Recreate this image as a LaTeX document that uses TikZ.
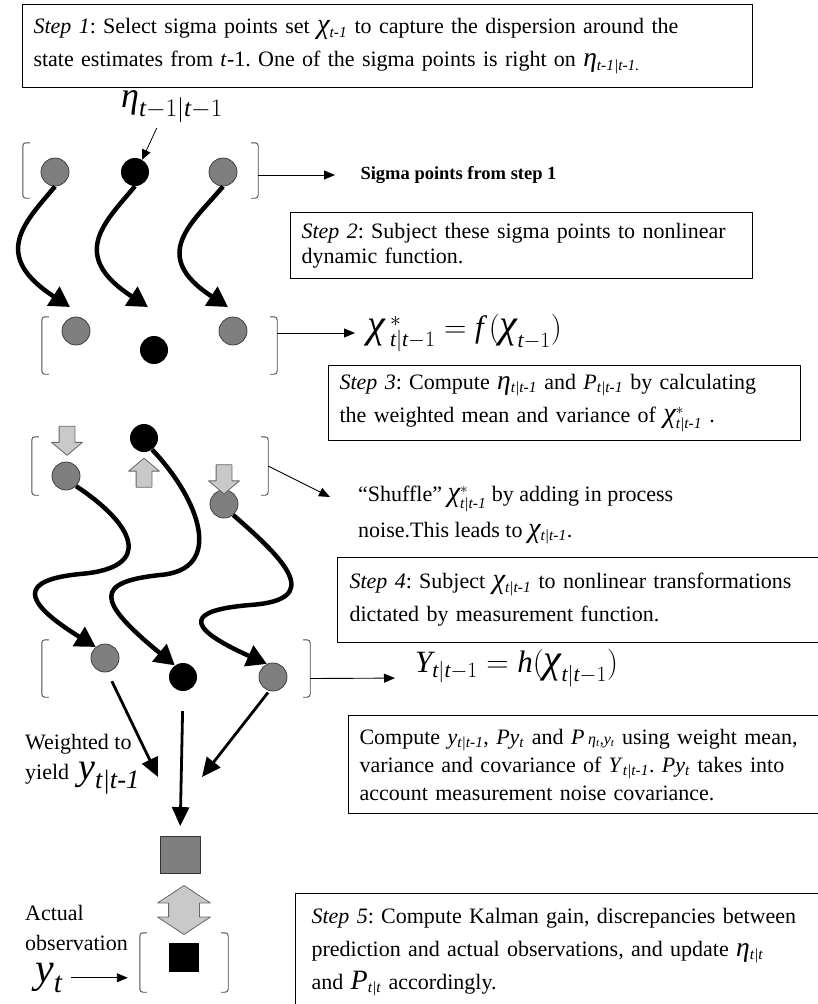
\RequirePackage{fix-cm}
\documentclass[tikz,border=0pt]{standalone}
\usepackage{amsmath}
\usepackage{graphicx}
\usepackage{fontspec}
\setmainfont{Liberation Serif}
\usepackage{tikz}
\usetikzlibrary{positioning, arrows.meta, shapes.arrows}
\definecolor{dotgray}{HTML}{7F7F7F}
\definecolor{arrgray}{HTML}{C9C9C9}
\frenchspacing
\hyphenpenalty=10000
\exhyphenpenalty=10000

\newcommand{\sbt}[1]{\textsubscript{\textit{#1}}}
\newcommand{\gchi}{\scalebox{1.3}{\itshape χ}}
\newcommand{\geta}{\scalebox{1.25}{\itshape η}}
\newcommand{\chistar}{$\text{\gchi}^{*}_{\textit{t|t-1}}$}
\newcommand{\rowbrackets}[1]{%
  \draw[brk] ([xshift=7pt]#1.north west) -- (#1.north west) -- (#1.south west) -- ([xshift=7pt]#1.south west);
  \draw[brk] ([xshift=-7pt]#1.north east) -- (#1.north east) -- (#1.south east) -- ([xshift=-7pt]#1.south east);}

\begin{document}
\begin{tikzpicture}[x=1pt, y=-1pt, >=Triangle, line join=round]
    % stili
    \tikzstyle{stepbox} = [draw, line width=1.1pt, anchor=north west, align=left, inner ysep=2pt, font=\fontsize{22}{33}\selectfont]
    \tikzstyle{gdot} = [circle, draw=black!75, fill=dotgray, line width=0.8pt, minimum size=28pt, inner sep=0pt]
    \tikzstyle{bdot} = [circle, fill=black, minimum size=28pt, inner sep=0pt]
    \tikzstyle{rowbox} = [rectangle, inner sep=0pt]
    \tikzstyle{brk} = [draw=black!70, line width=0.9pt, rounded corners=3pt]
    \tikzstyle{thinarr} = [-{Triangle[length=11pt,width=9pt]}, line width=0.9pt]
    \tikzstyle{fatarr} = [-{Triangle[length=20pt,width=22pt]}, line width=4.5pt]
    \tikzstyle{midarr} = [-{Triangle[length=19pt,width=17pt]}, line width=2.8pt]
    \tikzstyle{downarr} = [single arrow, draw=black!60, fill=arrgray, line width=0.8pt, minimum height=29pt, single arrow head extend=7.5pt, single arrow tip angle=100, inner sep=7.5pt, shape border rotate=270]
    \tikzstyle{uparr} = [downarr, shape border rotate=90]
    \tikzstyle{formula} = [inner sep=2pt, font=\fontsize{31}{31}\selectfont]
    \tikzstyle{lbl} = [align=left, inner sep=0pt, font=\fontsize{22}{30}\selectfont]

    \useasboundingbox (0,0) rectangle (817,1004);

    % riquadri dei passi
    \node[stepbox, text width=708pt, inner xsep=11pt, minimum height=83pt] (step1) at (22,4)
        {\textit{Step 1}: Select sigma points set \gchi\sbt{t-1} to capture the dispersion around the\\
         state estimates from \textit{t}-1. One of the sigma points is right on \geta\sbt{t-1|t-1.}};
    \node[stepbox, text width=440pt, inner xsep=11pt, minimum height=66pt, font=\fontsize{22}{25}\selectfont] (step2) at (290,212)
        {\textit{Step 2}: Subject these sigma points to nonlinear\\
         dynamic function.};
    \node[stepbox, text width=450pt, inner xsep=11pt, minimum height=75pt] (step3) at (328,365)
        {\textit{Step 3}: Compute \geta\sbt{t|t-1} and \textit{P}\sbt{t|t-1} by calculating\\
         the weighted mean and variance of \chistar\ .};
    \node[stepbox, text width=472pt, inner xsep=12pt, minimum height=85pt] (step4) at (337,557)
        {\textit{Step 4}: Subject \gchi\sbt{t|t-1} to nonlinear transformations\\
         dictated by measurement function.};
    \node[stepbox, text width=472pt, inner xsep=11pt, minimum height=98pt, font=\fontsize{22}{28}\selectfont] (meas) at (348,715)
        {Compute \textit{y}\sbt{t|t-1}, \textit{Py}\sbt{t} and \textit{P}\,{\fontsize{16}{16}\selectfont\textit{η}\sbt{t},\textit{y}\sbt{t}} using weight mean,\\
         variance and covariance of \textit{Y}\sbt{t|t-1}. \textit{Py}\sbt{t} takes into\\
         account measurement noise covariance.};
    \node[stepbox, text width=510pt, inner xsep=16pt, minimum height=117pt] (step5) at (295,893)
        {\textit{Step 5}: Compute Kalman gain, discrepancies between\\
         prediction and actual observations, and update \geta\sbt{t|t}\\
         and {\fontsize{28}{28}\selectfont\textit{P}}\sbt{t|t} accordingly.};

    % riga 1
    \node[rowbox, minimum width=235pt, minimum height=55pt] (r1) at (140.5,170.5) {};
    \rowbrackets{r1}
    \node[gdot] (a1) at (55,172) {};
    \node[bdot] (a2) at (135,172) {};
    \node[gdot] (a3) at (223,172) {};
    \node[formula, font=\fontsize{36}{36}\selectfont] (eta) at (172,107) {$\textit{η}_{\textit{t}-1|\textit{t}-1}$};
    \draw[-{Triangle[length=10pt,width=9pt]}, line width=0.8pt, shorten <=3pt] ([xshift=-14pt]eta.south) -- (a2.60);
    \node[anchor=west, font=\bfseries\fontsize{18.5}{20}\selectfont] (sig) at (357,175) {Sigma points from step 1};
    \draw[thinarr, shorten >=22pt] (r1.east |- sig.west) -- (sig.west);

    % riga 2
    \node[rowbox, minimum width=235pt, minimum height=57pt] (r2) at (159.5,345.5) {};
    \rowbrackets{r2}
    \node[gdot] (b1) at (76,331) {};
    \node[bdot] (b2) at (154,350) {};
    \node[gdot] (b3) at (233,331) {};
    \node[formula, anchor=west] (chi) at (365,333) {$\text{\gchi}\,{}^{*}_{\textit{t}|\textit{t}-1} = \textit{f}\,(\text{\gchi}_{\textit{t}-1})$};
    \draw[thinarr, shorten >=10pt] (r2.east |- chi.west) -- (chi.west);

    \draw[fatarr] (a1.south) .. controls +(-30,36) and +(-80,-52) .. ([shift={(-6,-24)}]b1.center);
    \draw[fatarr] (a2.south) .. controls +(-30,36) and +(-80,-52) .. ([shift={(-6,-43)}]b2.center);
    \draw[fatarr] (a3.south) .. controls +(-30,36) and +(-80,-52) .. ([shift={(-5,-24)}]b3.center);

    % riga 3 (rumore di processo)
    \node[rowbox, minimum width=236pt, minimum height=58pt] (r3) at (150,466) {};
    \rowbrackets{r3}
    \node[gdot] (c1) at (66,476) {};
    \node[bdot] (c2) at (144,438) {};
    \node[gdot] (c3) at (224,504) {};
    \node[downarr] (n1) at (67,437.5) {};
    \node[uparr] (n2) at (144,476) {};
    \node[downarr] (n3) at (224,476) {};
    \node[anchor=west, align=left, inner sep=0pt, font=\fontsize{22}{36}\selectfont] (shuf) at (358,515)
        {“Shuffle” \chistar\ by adding in process\\
         noise.This leads to \gchi\sbt{t|t-1}.};
    \coordinate (shufin) at (330,497);
    \draw[thinarr] (r3.east) -- (shufin);

    % riga 4
    \node[rowbox, minimum width=268pt, minimum height=57pt] (r4) at (176,668.5) {};
    \rowbrackets{r4}
    \node[gdot] (d1) at (105,658) {};
    \node[bdot] (d2) at (183,677) {};
    \node[gdot] (d3) at (273,677) {};
    \node[formula, anchor=west] (yfun) at (413,668) {$\textit{Y}_{\textit{t}|\textit{t}-1} = \textit{h}(\text{\gchi}_{\textit{t}|\textit{t}-1})$};
    \draw[thinarr, shorten >=18pt] ([yshift=-10pt]r4.east) -- ([yshift=-10pt]yfun.west);

    \draw[fatarr] (c1.-45) .. controls (135,525) and (155,568) .. (80,574) .. controls (20,580) and (20,600) .. (d1.130);
    \draw[fatarr] (c2.-55) .. controls (200,500) and (225,570) .. (160,575) .. controls (95,582) and (95,600) .. (d2.125);
    \draw[fatarr] (c3.-50) .. controls (285,560) and (325,600) .. (250,605) .. controls (190,610) and (180,625) .. (d3.115);

    % media pesata
    \coordinate (mergeL) at (158,777);
    \coordinate (mergeR) at (202,777);
    \node[draw=black!80, fill=dotgray, line width=0.8pt, minimum width=40pt, minimum height=37pt, inner sep=0pt] (pred) at (180,855) {};
    \draw[midarr, shorten <=10pt] (d1.-80) -- (mergeL);
    \draw[midarr, shorten <=20pt, shorten >=10pt] (d2.south) -- (pred.north);
    \draw[midarr, shorten <=2pt] (d3.-105) -- (mergeR);
    \node[lbl, anchor=west] (wtd) at (25,764)
        {Weighted to\\yield\, {\fontsize{38}{38}\selectfont$\textit{y}_{\textit{t|t-1}}$}};

    % osservazione
    \node[double arrow, draw=black!60, fill=arrgray, line width=0.8pt, minimum height=49pt, double arrow head extend=11pt, double arrow tip angle=113, inner xsep=15pt, inner ysep=0pt, shape border rotate=90] (cmp) at (184,910) {};
    \node[rowbox, minimum width=88pt, minimum height=59pt] (r5) at (184,962.5) {};
    \rowbrackets{r5}
    \node[fill=black, minimum width=30pt, minimum height=29pt, inner sep=0pt] (obsv) at (184,957) {};
    \node[lbl, anchor=west] (act) at (25,928) {Actual\\observation};
    \node[anchor=base west, inner sep=0pt, font=\fontsize{42}{42}\selectfont] (yt) at (35,982) {$\textit{y}_{\textit{t}}$};
    \draw[thinarr, shorten <=8pt, shorten >=12pt] (yt.east) -- (yt.east -| r5.west);
\end{tikzpicture}
\end{document}
